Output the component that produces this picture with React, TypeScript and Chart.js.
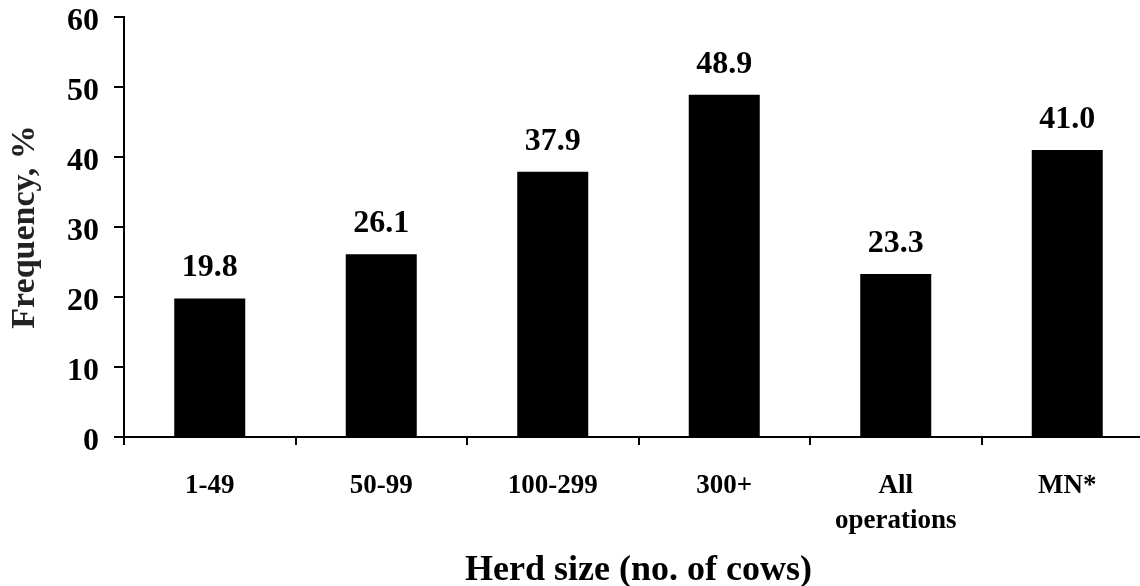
import React, { useEffect, useRef } from "react";
import { Chart, registerables } from "chart.js";

Chart.register(...registerables);

const categories: (string | string[])[] = ["1-49", "50-99", "100-299", "300+", ["All", "operations"], "MN*"];
const frequency: number[] = [19.8, 26.1, 37.9, 48.9, 23.3, 41.0];
const yTitle = "Frequency, %";
const xTitle = "Herd size (no. of cows)";

const FAMILY = "'Liberation Serif', 'Times New Roman', serif";

const valueLabels = {
  id: "valueLabels",
  afterDatasetsDraw(chart: any) {
    const ctx = chart.ctx;
    const meta = chart.getDatasetMeta(0);
    ctx.save();
    ctx.font = `bold 32px ${FAMILY}`;
    ctx.fillStyle = "#000";
    ctx.textAlign = "center";
    ctx.textBaseline = "alphabetic";
    meta.data.forEach((bar: any, i: number) => {
      const v = chart.data.datasets[0].data[i] as number;
      ctx.fillText(v.toFixed(1), bar.x, bar.y - 22);
    });
    ctx.restore();
  },
};

export default function App() {
  const ref = useRef<HTMLCanvasElement>(null);
  useEffect(() => {
    if (!ref.current) return;
    const chart = new Chart(ref.current, {
      type: "bar",
      data: {
        labels: categories,
        datasets: [
          {
            data: frequency,
            backgroundColor: "#000",
            borderWidth: 0,
            categoryPercentage: 1,
            barPercentage: 0.414,
          },
        ],
      },
      options: {
        responsive: false,
        animation: false,
        layout: { padding: { top: 17, left: 0, right: 0, bottom: 0 } },
        plugins: { legend: { display: false }, tooltip: { enabled: false } },
        scales: {
          x: {
            afterFit: (s: any) => {
              s.height = 149;
              s.paddingLeft = 0;
              s.paddingRight = 0;
            },
            grid: {
              display: true,
              drawOnChartArea: false,
              drawTicks: true,
              tickLength: 8,
              color: "#000",
              lineWidth: 2,
              offset: true,
            },
            border: { display: true, color: "#000", width: 2 },
            ticks: {
              color: "#000",
              font: { family: FAMILY, size: 27, weight: "bold", lineHeight: 1.32 },
              padding: 23,
              maxRotation: 0,
              autoSkip: false,
            },
            title: {
              display: true,
              text: xTitle,
              color: "#000",
              font: { family: FAMILY, size: 36, weight: "bold", lineHeight: 1 },
              padding: { top: 0, bottom: -3 },
            },
          },
          y: {
            min: 0,
            max: 60,
            afterFit: (s: any) => {
              s.width = 124;
              s.paddingTop = 0;
              s.paddingBottom = 0;
            },
            grid: {
              display: true,
              drawOnChartArea: false,
              drawTicks: true,
              tickLength: 10,
              color: "#000",
              lineWidth: 2,
            },
            border: { display: true, color: "#000", width: 2 },
            ticks: {
              stepSize: 10,
              color: "#000",
              font: { family: FAMILY, size: 32, weight: "bold", lineHeight: 1 },
              padding: 15,
              labelOffset: 5,
            },
            title: {
              display: true,
              text: yTitle,
              color: "#222",
              font: { family: FAMILY, size: 34, weight: "bold", lineHeight: 1 },
              padding: { top: 8, bottom: 0 },
            },
          },
        },
      },
      plugins: [valueLabels],
    });
    return () => chart.destroy();
  }, []);

  return (
    <div
      style={{
        position: "fixed",
        left: 0,
        top: 0,
        width: 1140,
        height: 586,
        overflow: "hidden",
        background: "#fff",
      }}
    >
      <canvas ref={ref} width={1153} height={586} style={{ width: 1153, height: 586, display: "block" }} />
    </div>
  );
}
